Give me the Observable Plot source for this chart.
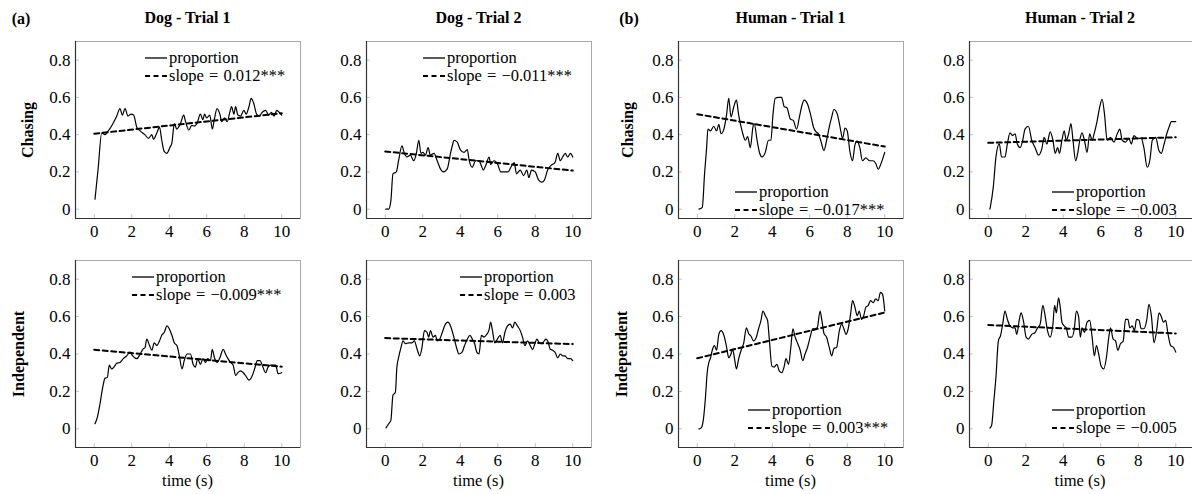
<!DOCTYPE html>
<html><head><meta charset="utf-8">
<script src="https://cdn.jsdelivr.net/npm/d3@7"></script>
<script src="https://cdn.jsdelivr.net/npm/@observablehq/plot@0.6"></script>
<style>
body{margin:0;background:#fff;}
#wrap{position:relative;width:1192px;height:494px;overflow:hidden;font-family:"Liberation Serif","Times New Roman",serif;color:#000;background:#fff;}
#wrap svg, #wrap svg text{font-family:"Liberation Serif","Times New Roman",serif !important;}
.abs{position:absolute;white-space:nowrap;}
.title{font-weight:bold;font-size:16px;transform:translate(-50%,-50%);}
.rowlab{font-weight:bold;font-size:16px;transform:translate(-50%,-50%) rotate(-90deg);}
.xlab{font-size:16.5px;transform:translate(-50%,-50%);}
.legend{font-size:16.5px;line-height:18px;width:max-content;word-spacing:1px;}
.legend .r{display:flex;align-items:center;height:18px;white-space:nowrap;}
.legend svg{flex:0 0 22px;margin-right:2px;}
</style></head><body><div id="wrap"></div>
<script>
// ---- labels ----
const columns = ["Dog - Trial 1", "Dog - Trial 2", "Human - Trial 1", "Human - Trial 2"];
const rows = ["Chasing", "Independent"];
const groupLabels = ["(a)", "(b)"];
const xTicks = [0, 2, 4, 6, 8, 10];
const yTicks = [0, 0.2, 0.4, 0.6, 0.8];
const xDomain = [-1, 11];
const yDomains = [[-0.05, 0.9], [-0.1, 0.9]];
const xLabel = "time (s)";
const legendLine = "proportion";

// ---- data: [time, proportion] per panel ----
const dogT1Chasing = [[0.04,0.054],[0.2,0.21],[0.4,0.41],[0.57,0.40],[0.75,0.42],[1.0,0.46],[1.2,0.50],[1.37,0.54],[1.5,0.505],[1.64,0.54],[1.8,0.50],[1.96,0.51],[2.1,0.505],[2.27,0.44],[2.45,0.42],[2.7,0.40],[2.9,0.38],[3.07,0.40],[3.16,0.375],[3.34,0.41],[3.48,0.44],[3.6,0.37],[3.73,0.31],[3.87,0.30],[4.05,0.335],[4.14,0.355],[4.27,0.46],[4.4,0.43],[4.6,0.46],[4.77,0.505],[4.87,0.47],[5.04,0.425],[5.2,0.45],[5.34,0.446],[5.48,0.46],[5.66,0.51],[5.8,0.48],[5.88,0.51],[6.0,0.49],[6.16,0.505],[6.3,0.43],[6.4,0.48],[6.55,0.54],[6.7,0.51],[6.8,0.47],[6.95,0.49],[7.09,0.47],[7.23,0.52],[7.32,0.55],[7.45,0.51],[7.54,0.55],[7.66,0.505],[7.8,0.50],[7.98,0.53],[8.1,0.51],[8.25,0.55],[8.37,0.595],[8.5,0.57],[8.66,0.51],[8.8,0.50],[8.96,0.52],[9.14,0.53],[9.3,0.505],[9.45,0.52],[9.59,0.50],[9.73,0.53],[9.86,0.52],[10,0.505]];
const dogT2Chasing = [[0.02,0],[0.18,0],[0.3,0.045],[0.41,0.19],[0.59,0.20],[0.71,0.26],[0.89,0.34],[1.02,0.30],[1.16,0.28],[1.34,0.29],[1.52,0.26],[1.66,0.30],[1.79,0.37],[1.9,0.30],[2.02,0.305],[2.14,0.29],[2.29,0.33],[2.4,0.29],[2.6,0.30],[2.77,0.26],[2.95,0.215],[3.1,0.20],[3.3,0.215],[3.48,0.30],[3.6,0.35],[3.66,0.37],[3.84,0.36],[4.0,0.32],[4.2,0.305],[4.38,0.32],[4.46,0.27],[4.64,0.225],[4.82,0.26],[5.0,0.26],[5.1,0.24],[5.23,0.21],[5.36,0.235],[5.54,0.28],[5.62,0.24],[5.8,0.26],[6.0,0.24],[6.16,0.20],[6.38,0.20],[6.55,0.20],[6.7,0.225],[6.88,0.25],[7.0,0.19],[7.2,0.21],[7.38,0.18],[7.55,0.21],[7.66,0.17],[7.8,0.21],[8.0,0.20],[8.16,0.16],[8.35,0.145],[8.48,0.155],[8.66,0.21],[8.84,0.235],[9.05,0.25],[9.2,0.30],[9.34,0.26],[9.46,0.28],[9.6,0.30],[9.73,0.28],[9.88,0.30],[10,0.28]];
const humanT1Chasing = [[0.09,0],[0.27,0.01],[0.39,0.19],[0.5,0.33],[0.57,0.43],[0.71,0.42],[0.88,0.445],[1.03,0.42],[1.15,0.455],[1.27,0.405],[1.42,0.43],[1.56,0.505],[1.68,0.595],[1.8,0.495],[1.95,0.55],[2.09,0.585],[2.2,0.51],[2.39,0.42],[2.57,0.37],[2.69,0.39],[2.83,0.33],[2.97,0.44],[3.04,0.46],[3.19,0.37],[3.33,0.30],[3.45,0.28],[3.63,0.305],[3.8,0.37],[3.93,0.37],[4.04,0.51],[4.16,0.595],[4.34,0.60],[4.5,0.60],[4.64,0.55],[4.78,0.545],[4.96,0.485],[5.13,0.475],[5.3,0.43],[5.45,0.495],[5.58,0.555],[5.7,0.585],[5.88,0.565],[6.05,0.505],[6.2,0.44],[6.34,0.415],[6.46,0.405],[6.58,0.37],[6.76,0.315],[6.9,0.37],[7.04,0.44],[7.17,0.495],[7.29,0.535],[7.47,0.51],[7.61,0.445],[7.75,0.38],[7.88,0.435],[8.0,0.42],[8.14,0.31],[8.28,0.26],[8.41,0.345],[8.53,0.365],[8.67,0.33],[8.81,0.26],[8.99,0.275],[9.2,0.26],[9.38,0.26],[9.52,0.245],[9.65,0.215],[9.82,0.25],[10,0.305]];
const humanT2Chasing = [[0.09,0],[0.27,0.12],[0.41,0.28],[0.59,0.35],[0.71,0.28],[0.89,0.28],[1.02,0.35],[1.16,0.41],[1.3,0.395],[1.43,0.405],[1.55,0.35],[1.7,0.33],[1.84,0.37],[1.96,0.43],[2.14,0.445],[2.32,0.37],[2.5,0.33],[2.68,0.29],[2.86,0.325],[2.98,0.385],[3.13,0.35],[3.3,0.415],[3.45,0.37],[3.57,0.30],[3.7,0.33],[3.8,0.30],[3.93,0.37],[4.05,0.42],[4.16,0.37],[4.29,0.405],[4.41,0.46],[4.52,0.37],[4.66,0.26],[4.77,0.30],[4.88,0.37],[5.0,0.41],[5.13,0.37],[5.27,0.305],[5.41,0.405],[5.54,0.37],[5.66,0.41],[5.8,0.47],[5.95,0.55],[6.07,0.59],[6.2,0.51],[6.34,0.37],[6.52,0.385],[6.7,0.36],[6.88,0.405],[7.02,0.43],[7.14,0.37],[7.32,0.36],[7.5,0.38],[7.63,0.35],[7.77,0.395],[7.95,0.38],[8.16,0.38],[8.3,0.33],[8.48,0.225],[8.63,0.27],[8.75,0.37],[8.93,0.385],[9.1,0.315],[9.23,0.30],[9.38,0.35],[9.52,0.405],[9.64,0.44],[9.77,0.47],[10,0.47]];
const dogT1Independent = [[0.04,0.027],[0.16,0.06],[0.3,0.13],[0.45,0.22],[0.57,0.27],[0.7,0.275],[0.8,0.34],[0.93,0.32],[1.05,0.33],[1.2,0.35],[1.37,0.355],[1.55,0.375],[1.73,0.39],[1.91,0.41],[2.05,0.39],[2.27,0.375],[2.45,0.40],[2.59,0.425],[2.71,0.435],[2.8,0.48],[2.95,0.445],[3.07,0.42],[3.2,0.46],[3.34,0.445],[3.48,0.47],[3.6,0.50],[3.73,0.515],[3.88,0.55],[4.0,0.535],[4.14,0.50],[4.27,0.46],[4.41,0.445],[4.54,0.39],[4.68,0.32],[4.8,0.365],[4.95,0.40],[5.13,0.40],[5.27,0.345],[5.39,0.33],[5.52,0.375],[5.66,0.345],[5.8,0.375],[5.93,0.355],[6.05,0.375],[6.2,0.365],[6.29,0.425],[6.41,0.38],[6.55,0.355],[6.7,0.38],[6.88,0.425],[7.0,0.40],[7.13,0.375],[7.27,0.355],[7.41,0.34],[7.54,0.285],[7.66,0.30],[7.8,0.31],[7.95,0.30],[8.07,0.285],[8.25,0.26],[8.43,0.285],[8.55,0.32],[8.7,0.365],[8.84,0.365],[8.96,0.34],[9.14,0.30],[9.27,0.33],[9.41,0.34],[9.55,0.34],[9.68,0.34],[9.8,0.295],[10,0.30]];
const dogT2Independent = [[0.04,0.005],[0.18,0.027],[0.3,0.045],[0.41,0.18],[0.54,0.195],[0.62,0.33],[0.71,0.38],[0.84,0.435],[0.95,0.47],[1.07,0.455],[1.25,0.46],[1.43,0.46],[1.55,0.47],[1.7,0.425],[1.84,0.39],[1.96,0.435],[2.09,0.525],[2.23,0.515],[2.32,0.49],[2.41,0.525],[2.55,0.49],[2.68,0.50],[2.77,0.47],[2.91,0.48],[3.04,0.515],[3.21,0.56],[3.34,0.57],[3.48,0.55],[3.66,0.49],[3.8,0.435],[3.93,0.40],[4.1,0.41],[4.23,0.445],[4.38,0.48],[4.52,0.50],[4.64,0.48],[4.77,0.455],[4.88,0.41],[5.0,0.40],[5.13,0.50],[5.27,0.49],[5.41,0.505],[5.54,0.53],[5.62,0.57],[5.71,0.53],[5.84,0.46],[5.98,0.48],[6.13,0.50],[6.25,0.46],[6.38,0.515],[6.52,0.55],[6.66,0.56],[6.79,0.54],[6.91,0.57],[7.05,0.55],[7.2,0.525],[7.32,0.49],[7.45,0.445],[7.59,0.47],[7.73,0.445],[7.86,0.425],[7.98,0.455],[8.09,0.48],[8.21,0.46],[8.34,0.455],[8.48,0.47],[8.57,0.48],[8.7,0.46],[8.8,0.425],[8.93,0.42],[9.05,0.41],[9.2,0.38],[9.34,0.40],[9.46,0.39],[9.59,0.39],[9.73,0.375],[9.88,0.375],[10,0.365]];
const humanT1Independent = [[0.09,0],[0.21,0.005],[0.32,0.045],[0.44,0.17],[0.53,0.30],[0.62,0.355],[0.71,0.38],[0.8,0.42],[0.92,0.445],[1.03,0.42],[1.15,0.505],[1.27,0.525],[1.42,0.50],[1.56,0.44],[1.68,0.38],[1.8,0.40],[1.89,0.425],[1.98,0.38],[2.09,0.32],[2.21,0.375],[2.34,0.42],[2.48,0.46],[2.62,0.54],[2.74,0.51],[2.87,0.495],[3.0,0.47],[3.15,0.49],[3.27,0.535],[3.4,0.58],[3.5,0.63],[3.63,0.605],[3.75,0.58],[3.85,0.47],[3.98,0.335],[4.1,0.33],[4.25,0.345],[4.37,0.31],[4.51,0.30],[4.64,0.335],[4.73,0.375],[4.87,0.345],[4.99,0.435],[5.1,0.535],[5.22,0.49],[5.34,0.46],[5.49,0.42],[5.63,0.365],[5.75,0.40],[5.88,0.435],[6.02,0.49],[6.16,0.535],[6.28,0.535],[6.4,0.54],[6.55,0.63],[6.64,0.585],[6.76,0.51],[6.9,0.49],[7.04,0.435],[7.17,0.39],[7.29,0.43],[7.43,0.435],[7.58,0.525],[7.7,0.56],[7.82,0.535],[7.93,0.505],[8.05,0.535],[8.18,0.615],[8.28,0.685],[8.41,0.65],[8.53,0.605],[8.64,0.63],[8.76,0.585],[8.88,0.605],[8.99,0.65],[9.12,0.66],[9.24,0.685],[9.38,0.675],[9.52,0.695],[9.65,0.685],[9.77,0.73],[9.88,0.72],[10,0.63]];
const humanT2Independent = [[0.09,0.004],[0.18,0.018],[0.3,0.15],[0.41,0.275],[0.54,0.47],[0.66,0.50],[0.77,0.56],[0.89,0.63],[1.02,0.585],[1.16,0.55],[1.3,0.54],[1.43,0.54],[1.52,0.505],[1.66,0.585],[1.75,0.62],[1.88,0.575],[2.02,0.49],[2.14,0.48],[2.32,0.505],[2.5,0.515],[2.63,0.54],[2.77,0.56],[2.91,0.66],[3.04,0.60],[3.16,0.525],[3.3,0.49],[3.45,0.56],[3.54,0.66],[3.63,0.62],[3.75,0.70],[3.84,0.65],[3.93,0.57],[4.05,0.55],[4.16,0.54],[4.29,0.49],[4.46,0.49],[4.59,0.535],[4.7,0.63],[4.82,0.60],[4.91,0.49],[5.0,0.54],[5.13,0.515],[5.27,0.57],[5.41,0.58],[5.54,0.49],[5.66,0.39],[5.77,0.445],[5.89,0.40],[6.02,0.335],[6.16,0.32],[6.3,0.38],[6.43,0.49],[6.52,0.54],[6.66,0.48],[6.79,0.47],[6.91,0.42],[7.05,0.455],[7.2,0.47],[7.32,0.585],[7.45,0.585],[7.55,0.54],[7.68,0.55],[7.8,0.525],[7.91,0.585],[8.04,0.58],[8.16,0.535],[8.3,0.535],[8.45,0.58],[8.57,0.665],[8.7,0.605],[8.84,0.46],[8.98,0.525],[9.11,0.62],[9.23,0.60],[9.34,0.57],[9.46,0.58],[9.59,0.505],[9.73,0.445],[9.88,0.435],[10,0.41]];

// panel order: top row (Chasing) then bottom row (Independent), columns left to right
const series = [dogT1Chasing, dogT2Chasing, humanT1Chasing, humanT2Chasing,
                dogT1Independent, dogT2Independent, humanT1Independent, humanT2Independent];
const trendStart = [0.405, 0.31, 0.51, 0.356, 0.423, 0.485, 0.377, 0.555];
const trendEnd   = [0.515, 0.207, 0.336, 0.386, 0.332, 0.453, 0.622, 0.51];
const slopeLabels = ["0.012***", "\u22120.011***", "\u22120.017***", "\u22120.003",
                     "\u22120.009***", "0.003", "0.003***", "\u22120.005"];

// ---- layout (pixels) ----
const boxLeft = [75, 366, 678, 969];
const boxRight = [300, 591, 903, 1194];
const boxTop = [41, 260];
const boxBottom = [218, 447];
const legendPos = [[145,49],[423,49],[735,183],[1052,183],[132,268],[460,268],[748,401],[1052,401]];
const groupX = [21, 629];
const rowLabelX = [[28, 628], [19, 622]];

const wrap = document.getElementById("wrap");
function addDiv(cls, text, x, y) {
  const d = document.createElement("div");
  d.className = "abs " + cls;
  d.textContent = text;
  d.style.left = x + "px"; d.style.top = y + "px";
  wrap.appendChild(d);
  return d;
}

const m = {l: 50, r: 4, t: 4, b: 30};
series.forEach((s, i) => {
  const row = Math.floor(i / 4), col = i % 4;
  const L = boxLeft[col], R = boxRight[col], T = boxTop[row], B = boxBottom[row];
  const bw = R - L, bh = B - T;
  const data = s.map(([t, v]) => ({t, v}));
  const trend = [{t: xTicks[0], v: trendStart[i]}, {t: xTicks[xTicks.length - 1], v: trendEnd[i]}];
  const svg = Plot.plot({
    width: bw + m.l + m.r, height: bh + m.t + m.b,
    marginLeft: m.l, marginRight: m.r, marginTop: m.t, marginBottom: m.b,
    style: {fontFamily: "'Liberation Serif', serif", fontSize: "17px", background: "transparent", color: "#000", overflow: "visible"},
    x: {domain: xDomain},
    y: {domain: yDomains[row]},
    marks: [
      Plot.frame({stroke: "#a8a8a8", strokeWidth: 1}),
      Plot.ruleX(xTicks, {stroke: "#c4c4c4", insetTop: bh - 4}),
      Plot.ruleY(yTicks, {stroke: "#c4c4c4", insetRight: bw - 4}),
      Plot.axisX({ticks: xTicks, tickSize: 0, tickPadding: 6, label: null, fill: "#000", fontSize: 17}),
      Plot.axisY({ticks: yTicks, tickSize: 0, tickPadding: 5, label: null, fill: "#000", fontSize: 17,
                  tickFormat: d => d === 0 ? "0" : d.toFixed(1)}),
      Plot.line(trend, {x: "t", y: "v", stroke: "#000", strokeWidth: 2, strokeDasharray: "5,3.5"}),
      Plot.line(data, {x: "t", y: "v", stroke: "#000", strokeWidth: 1.2, curve: "monotone-x"}),
      Plot.ruleX([xDomain[0]], {stroke: "#333", strokeWidth: 1.2}),
      Plot.ruleY([yDomains[row][0]], {stroke: "#333", strokeWidth: 1.2})
    ]
  });
  svg.setAttribute("font-family", "'Liberation Serif', serif");
  svg.style.position = "absolute";
  svg.style.left = (L - m.l) + "px";
  svg.style.top = (T - m.t) + "px";
  wrap.appendChild(svg);

  // legend
  const lg = document.createElement("div");
  lg.className = "abs legend";
  lg.style.left = legendPos[i][0] + "px";
  lg.style.top = legendPos[i][1] + "px";
  lg.innerHTML =
    `<div class="r"><svg width="22" height="10"><line x1="0" x2="22" y1="5" y2="5" stroke="#000" stroke-width="1.3"/></svg><span>${legendLine}</span></div>` +
    `<div class="r"><svg width="22" height="10"><line x1="0" x2="22" y1="5" y2="5" stroke="#000" stroke-width="2" stroke-dasharray="5,3.5"/></svg><span>slope = ${slopeLabels[i]}</span></div>`;
  wrap.appendChild(lg);
});

columns.forEach((c, col) => addDiv("title", c, (boxLeft[col] + Math.min(boxRight[col], 1191)) / 2, 18));
columns.forEach((c, col) => addDiv("xlab", xLabel, (boxLeft[col] + Math.min(boxRight[col], 1191)) / 2, 481));
groupLabels.forEach((g, k) => addDiv("title", g, groupX[k], 19));
rows.forEach((r, row) => {
  [0, 1].forEach(k => addDiv("rowlab", r, rowLabelX[row][k], (boxTop[row] + boxBottom[row]) / 2));
});
</script></body></html>
